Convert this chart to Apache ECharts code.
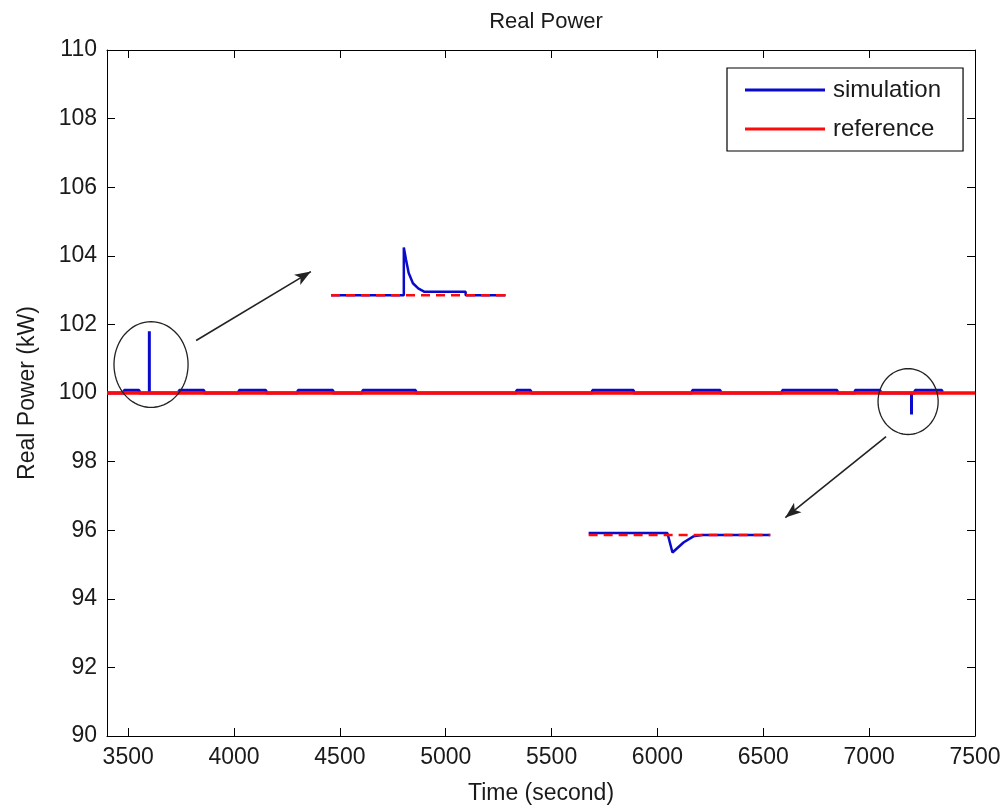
<!DOCTYPE html>
<html>
<head>
<meta charset="utf-8">
<script src="https://cdn.jsdelivr.net/npm/echarts@6/dist/echarts.min.js"></script>
<style>
html,body{margin:0;padding:0;background:#fff;}
#chart{width:1008px;height:812px;}
</style>
</head>
<body>
<div id="chart"></div>
<script>
// ---- Data ----
var xTicks = [3500, 4000, 4500, 5000, 5500, 6000, 6500, 7000, 7500];
var yTicks = [90, 92, 94, 96, 98, 100, 102, 104, 106, 108, 110];

// reference power (kW)
var refTime = [3400, 7500];
var refPower = [100, 100];

// simulated power (kW) on the main trace
var simTime = [3400, 3481, 3481, 3552, 3552, 3600, 3600, 3600,
  3741, 3741, 3858, 3858, 4024, 4024, 4151, 4151, 4302, 4302, 4467, 4467,
  4608, 4608, 4858, 4858, 5335, 5335, 5401, 5401, 5693, 5693, 5887, 5887,
  6165, 6165, 6297, 6297, 6590, 6590, 6849, 6849, 6934, 6934, 7052, 7052,
  7200, 7200, 7200, 7217, 7217, 7344, 7344];
var simPower = [100, 100, 100.08, 100.08, 100, 100, 101.8, 100,
  100, 100.08, 100.08, 100, 100, 100.08, 100.08, 100, 100, 100.08, 100.08, 100,
  100, 100.08, 100.08, 100, 100, 100.08, 100.08, 100, 100, 100.08, 100.08, 100,
  100, 100.08, 100.08, 100, 100, 100.08, 100.08, 100, 100, 100.08, 100.08, 100,
  100, 99.37, 100, 100, 100.08, 100.08, 100];

// magnified view of the step-up transient (drawn as inset)
var zoomUpTime = [4458, 4802, 4802, 4812, 4825, 4845, 4870, 4900, 5094, 5094, 5283];
var zoomUpSim = [102.85, 102.85, 104.24, 103.9, 103.5, 103.2, 103.05, 102.95, 102.95, 102.85, 102.85];
var zoomUpRefTime = [4458, 5283];
var zoomUpRef = [102.85, 102.85];

// magnified view of the step-down transient (drawn as inset)
var zoomDownTime = [5675, 6047, 6071, 6123, 6170, 6212, 6533];
var zoomDownSim = [95.92, 95.92, 95.35, 95.64, 95.82, 95.86, 95.86];
var zoomDownRefTime = [5675, 6533];
var zoomDownRef = [95.86, 95.86];

// annotations (data coordinates)
var arrows = [
  [[3821, 101.53], [4363, 103.54]],
  [[7080, 98.73], [6604, 96.37]]
];
var ellipses = [
  {cx: 3608, cy: 100.83, rx: 175, ry: 1.25},
  {cx: 7184, cy: 99.75, rx: 142, ry: 0.96}
];

function pairs(xs, ys) { return xs.map(function (x, i) { return [x, ys[i]]; }); }

var BLUE = '#0a0acc';
var RED = '#ff0a0a';
var FONT = 'Liberation Sans, Arial, sans-serif';
var TXT = '#1a1a1a';

var chart = echarts.init(document.getElementById('chart'), null, {renderer: 'canvas'});

var axisCommon = {
  type: 'value',
  axisLine: {show: true, lineStyle: {color: '#000', width: 1}},
  axisTick: {show: true, inside: true, length: 8, lineStyle: {color: '#000', width: 1}},
  splitLine: {show: false}
};

var option = {
  animation: false,
  backgroundColor: '#fff',
  title: {
    text: 'Real Power',
    left: 541, textAlign: 'center', top: 6,
    textStyle: {fontFamily: FONT, fontSize: 22, fontWeight: 'normal', color: TXT}
  },
  legend: {
    data: ['simulation', 'reference'],
    orient: 'vertical',
    left: 727, top: 68,
    padding: [8, 22, 8, 18],
    itemGap: 11,
    itemWidth: 80, itemHeight: 3,
    icon: 'rect',
    borderColor: '#000', borderWidth: 1.2,
    backgroundColor: '#fff',
    textStyle: {fontFamily: FONT, fontSize: 24, color: TXT, lineHeight: 28, padding: [0, 0, 0, 3]}
  },
  grid: {left: 107, right: 33, top: 50, bottom: 76, containLabel: false},
  xAxis: [
    Object.assign({}, axisCommon, {
      min: 3400, max: 7500, interval: 500,
      position: 'bottom',
      name: 'Time (second)', nameLocation: 'middle', nameGap: 46,
      nameTextStyle: {fontFamily: FONT, fontSize: 23, color: TXT},
      axisLabel: {fontFamily: FONT, fontSize: 23, color: TXT, margin: 10,
        customValues: xTicks, formatter: function (v) { return String(v); }},
      axisTick: Object.assign({}, axisCommon.axisTick, {customValues: xTicks})
    }),
    Object.assign({}, axisCommon, {
      min: 3400, max: 7500, interval: 500, position: 'top',
      axisLabel: {show: false},
      axisTick: Object.assign({}, axisCommon.axisTick, {customValues: xTicks})
    })
  ],
  yAxis: [
    Object.assign({}, axisCommon, {
      min: 90, max: 110, interval: 2, position: 'left',
      name: 'Real Power (kW)', nameLocation: 'middle', nameGap: 68,
      nameTextStyle: {fontFamily: FONT, fontSize: 23, color: TXT},
      axisLabel: {fontFamily: FONT, fontSize: 23, color: TXT, margin: 10,
        customValues: yTicks, formatter: function (v) { return String(v); }}
    }),
    Object.assign({}, axisCommon, {
      min: 90, max: 110, interval: 2, position: 'right',
      axisLabel: {show: false}
    })
  ],
  series: [
    {
      name: 'simulation', type: 'line', data: pairs(simTime, simPower),
      showSymbol: false, symbol: 'none', z: 3,
      lineStyle: {color: BLUE, width: 3}, itemStyle: {color: BLUE}
    },
    {
      name: 'reference', type: 'line', data: pairs(refTime, refPower),
      showSymbol: false, symbol: 'none', z: 4,
      lineStyle: {color: RED, width: 3.5}, itemStyle: {color: RED},
      markLine: {
        silent: true, symbol: ['none', 'arrow'], symbolSize: [9, 16],
        label: {show: false},
        lineStyle: {color: '#222', width: 1.6, type: 'solid'},
        data: arrows.map(function (a) { return [{coord: a[0]}, {coord: a[1]}]; })
      }
    },
    {
      name: 'sim-zoom-up', type: 'line', data: pairs(zoomUpTime, zoomUpSim),
      showSymbol: false, symbol: 'none', z: 3,
      lineStyle: {color: BLUE, width: 2.5}
    },
    {
      name: 'ref-zoom-up', type: 'line', data: pairs(zoomUpRefTime, zoomUpRef),
      showSymbol: false, symbol: 'none', z: 4,
      lineStyle: {color: RED, width: 2.5, type: [9, 6]}
    },
    {
      name: 'sim-zoom-down', type: 'line', data: pairs(zoomDownTime, zoomDownSim),
      showSymbol: false, symbol: 'none', z: 3,
      lineStyle: {color: BLUE, width: 2.5}
    },
    {
      name: 'ref-zoom-down', type: 'line', data: pairs(zoomDownRefTime, zoomDownRef),
      showSymbol: false, symbol: 'none', z: 4,
      lineStyle: {color: RED, width: 2.5, type: [9, 6]}
    }
  ]
};
chart.setOption(option);

// ellipse outlines positioned through the axes' scales
function ellipseGraphic(e) {
  var c = chart.convertToPixel({gridIndex: 0}, [e.cx, e.cy]);
  var r = chart.convertToPixel({gridIndex: 0}, [e.cx + e.rx, e.cy + e.ry]);
  var rx = Math.abs(r[0] - c[0]), ry = Math.abs(r[1] - c[1]);
  var pts = [];
  for (var i = 0; i <= 72; i++) {
    var t = i / 72 * Math.PI * 2;
    pts.push([c[0] + rx * Math.cos(t), c[1] + ry * Math.sin(t)]);
  }
  return {type: 'polyline', shape: {points: pts}, silent: true, z: 10,
    style: {stroke: '#222', lineWidth: 1.3, fill: null}};
}
chart.setOption({graphic: ellipses.map(ellipseGraphic)});
</script>
</body>
</html>
